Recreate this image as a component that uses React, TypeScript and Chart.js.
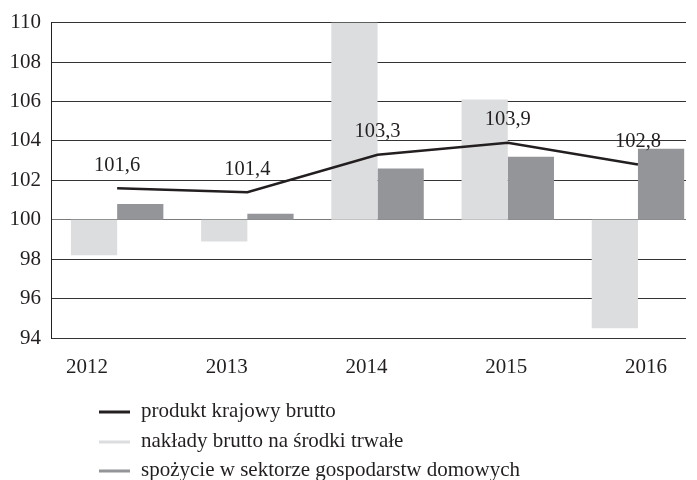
import React, { useEffect, useRef } from "react";
import { Chart, registerables } from "chart.js";

Chart.register(...registerables);

const categories = ["2012", "2013", "2014", "2015", "2016"];
const gdp = [101.6, 101.4, 103.3, 103.9, 102.8];
const investment = [98.2, 98.9, 110.0, 106.1, 94.5];
const consumption = [100.8, 100.3, 102.6, 103.2, 103.6];
const baseline = 100;
const yMin = 94;
const yMax = 110;
const yStep = 2;

const seriesNames = [
  "produkt krajowy brutto",
  "nakłady brutto na środki trwałe",
  "spożycie w sektorze gospodarstw domowych",
];

const INK = "#231f20";
const LIGHT = "#dcdddf";
const DARK = "#939598";
const FONT = "'Liberation Serif', 'Times New Roman', serif";

const fmt = (v: number) => v.toFixed(1).replace(".", ",");

const labelPlugin = {
  id: "gdpLabels",
  afterDatasetsDraw(chart: any) {
    const ctx = chart.ctx;
    const meta = chart.getDatasetMeta(2);
    ctx.save();
    ctx.font = `20.5px ${FONT}`;
    ctx.fillStyle = INK;
    ctx.textAlign = "center";
    ctx.textBaseline = "middle";
    meta.data.forEach((pt: any, i: number) => {
      ctx.fillText(fmt(gdp[i]), pt.x, pt.y - 23);
    });
    ctx.restore();
  },
};

const legendPlugin = {
  id: "customLegend",
  afterDraw(chart: any) {
    const ctx = chart.ctx;
    const base = chart.chartArea.bottom;
    const rows = [
      { color: INK, width: 3, text: seriesNames[0], dy: 74 },
      { color: LIGHT, width: 3, text: seriesNames[1], dy: 104 },
      { color: DARK, width: 3, text: seriesNames[2], dy: 133 },
    ];
    ctx.save();
    ctx.font = `21px ${FONT}`;
    ctx.textAlign = "left";
    ctx.textBaseline = "middle";
    rows.forEach((r) => {
      const y = base + r.dy;
      ctx.strokeStyle = r.color;
      ctx.lineWidth = r.width;
      ctx.beginPath();
      ctx.moveTo(99, y);
      ctx.lineTo(130, y);
      ctx.stroke();
      ctx.fillStyle = INK;
      ctx.fillText(r.text, 141, y - 1);
    });
    ctx.restore();
  },
};

export default function App() {
  const ref = useRef<HTMLCanvasElement | null>(null);

  useEffect(() => {
    if (!ref.current) return;
    const idx = categories.map((_, i) => i);
    const chart = new Chart(ref.current, {
      type: "bar",
      data: {
        datasets: [
          {
            type: "bar",
            label: seriesNames[1],
            data: idx.map((i) => ({ x: i, y: [baseline, investment[i]] })) as any,
            backgroundColor: LIGHT,
            borderWidth: 0,
            xAxisID: "x",
            order: 2,
            categoryPercentage: 0.71,
            barPercentage: 1,
          },
          {
            type: "bar",
            label: seriesNames[2],
            data: idx.map((i) => ({ x: i, y: [baseline, consumption[i]] })) as any,
            backgroundColor: DARK,
            borderWidth: 0,
            xAxisID: "x",
            order: 2,
            categoryPercentage: 0.71,
            barPercentage: 1,
          },
          {
            type: "line",
            label: seriesNames[0],
            data: idx.map((i) => ({ x: i, y: gdp[i] })) as any,
            borderColor: INK,
            borderWidth: 2.5,
            pointRadius: 0,
            tension: 0,
            xAxisID: "x",
            order: 1,
          },
        ],
      },
      options: {
        animation: false,
        responsive: false,
        layout: { padding: { left: 0, top: 17, right: 11, bottom: 102 } },
        plugins: {
          legend: { display: false },
          tooltip: { enabled: false },
        },
        scales: {
          x: {
            type: "linear",
            display: false,
            offset: false,
            grid: { offset: false },
            min: -0.508,
            max: 4.369,
            afterBuildTicks: (s: any) => {
              s.ticks = idx.map((i) => ({ value: i }));
            },
          },
          xl: {
            type: "linear",
            position: "bottom",
            offset: false,
            min: -0.258,
            max: 4.287,
            afterBuildTicks: (s: any) => {
              s.ticks = idx.map((i) => ({ value: i }));
            },
            afterFit: (s: any) => {
              s.height = 40;
            },
            grid: { display: false, drawTicks: false, offset: false },
            border: { display: false },
            ticks: {
              padding: 17,
              color: INK,
              font: { size: 21, family: FONT },
              maxRotation: 0,
              autoSkip: false,
              callback: (v: any) => categories[v as number] ?? "",
            },
          },
          y: {
            type: "linear",
            min: yMin,
            max: yMax,
            afterFit: (s: any) => {
              s.width = 51;
            },
            ticks: {
              stepSize: yStep,
              padding: 10,
              color: INK,
              font: { size: 21, family: FONT },
            },
            grid: {
              drawTicks: false,
              color: (c: any) => (c.tick && c.tick.value === baseline ? "#7a7a7a" : "#333333"),
              lineWidth: 1,
            },
            border: { display: true, color: INK, width: 1 },
          },
        },
      },
      plugins: [labelPlugin, legendPlugin],
    });
    return () => chart.destroy();
  }, []);

  return (
    <div style={{ position: "absolute", left: 0, top: 0, width: 697, height: 480, background: "#fff" }}>
      <canvas ref={ref} width={697} height={480} />
    </div>
  );
}
